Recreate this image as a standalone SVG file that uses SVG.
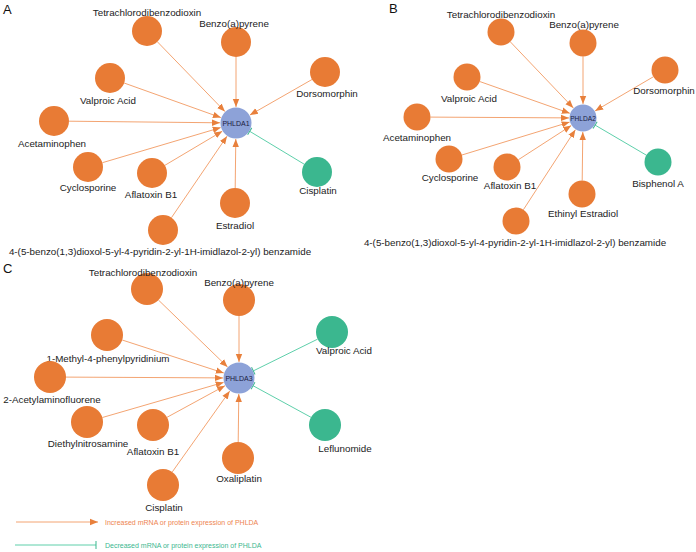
<svg xmlns="http://www.w3.org/2000/svg" width="696" height="552" viewBox="0 0 696 552">
<style>
.bg{fill:#ffffff}
.src{fill:#E87B35}
.inh{fill:#3BB78F}
.hub{fill:#8DA2D8}
.lbl{font-family:"Liberation Sans",Arial,sans-serif;font-size:9.8px;fill:#222;text-anchor:middle}
.hl{font-family:"Liberation Sans",Arial,sans-serif;font-size:7px;fill:#1a2040;text-anchor:middle}
.pl{font-family:"Liberation Sans",Arial,sans-serif;font-size:13px;fill:#111}
.up{stroke:#F29A62;stroke-width:0.9;fill:none;marker-end:url(#arr)}
.dn{stroke:#4CC9A0;stroke-width:0.9;fill:none;marker-end:url(#bar)}
.lgu{font-family:"Liberation Sans",Arial,sans-serif;font-size:7px;fill:#EE8450}
.lgd{font-family:"Liberation Sans",Arial,sans-serif;font-size:7px;fill:#3BB78F}
</style>
<defs>
<marker id="arr" markerUnits="userSpaceOnUse" markerWidth="8" markerHeight="8" viewBox="0 0 6 6" refX="6" refY="3" orient="auto">
<path d="M0,0.6 L6,3 L0,5.4 z" fill="#E8803C"/>
</marker>
<marker id="bar" markerUnits="userSpaceOnUse" markerWidth="10" markerHeight="10" viewBox="-1 -5 2 10" refX="0" refY="0" orient="auto">
<path d="M0,-4 L0,4" stroke="#3BB78F" stroke-width="1"/>
</marker>
</defs>
<rect class="bg" x="0" y="0" width="696" height="552"/>
<text class="pl" x="3" y="14">A</text>
<text class="pl" x="389" y="13">B</text>
<text class="pl" x="3" y="273">C</text>
<g id="connectors">
<!-- A -->
<line class="up" x1="157.4" y1="41.8" x2="224.9" y2="111.5"/>
<line class="up" x1="236" y1="57" x2="236" y2="107"/>
<line class="up" x1="312" y1="79.5" x2="249.9" y2="115"/>
<line class="up" x1="124.1" y1="83" x2="220.9" y2="117.6"/>
<line class="up" x1="69" y1="121.2" x2="220" y2="122.8"/>
<line class="up" x1="102.4" y1="162.7" x2="220.7" y2="127.6"/>
<line class="up" x1="164.9" y1="165.3" x2="222.3" y2="131.2"/>
<line class="up" x1="235.2" y1="188" x2="235.8" y2="139"/>
<line class="up" x1="171.5" y1="217.6" x2="227" y2="136.2"/>
<line class="dn" x1="304.2" y1="164.2" x2="249.7" y2="131.3"/>
<!-- B -->
<line class="up" x1="510.3" y1="41.8" x2="573.3" y2="107.9"/>
<line class="up" x1="583" y1="56.5" x2="583" y2="104"/>
<line class="up" x1="653.3" y1="76.8" x2="595.1" y2="110.9"/>
<line class="up" x1="479.7" y1="81.5" x2="569.8" y2="113.3"/>
<line class="up" x1="430.5" y1="117.1" x2="569" y2="117.9"/>
<line class="up" x1="461.9" y1="155" x2="569.6" y2="122.1"/>
<line class="up" x1="518.4" y1="159.7" x2="571.2" y2="125.6"/>
<line class="up" x1="582.2" y1="180.5" x2="582.8" y2="132"/>
<line class="up" x1="523.4" y1="209.7" x2="575.4" y2="129.7"/>
<line class="dn" x1="646.4" y1="155.2" x2="595.1" y2="125.1"/>
<!-- C -->
<line class="up" x1="158.5" y1="300.1" x2="227.5" y2="366.9"/>
<line class="up" x1="239" y1="316" x2="239" y2="362"/>
<line class="up" x1="122.2" y1="340" x2="223.8" y2="373"/>
<line class="up" x1="66" y1="377.1" x2="223" y2="377.9"/>
<line class="up" x1="102.4" y1="417.5" x2="223.6" y2="382.4"/>
<line class="up" x1="167" y1="417.3" x2="225" y2="385.7"/>
<line class="up" x1="238.2" y1="442" x2="238.8" y2="394"/>
<line class="up" x1="172.3" y1="471.9" x2="229.7" y2="391.1"/>
<line class="dn" x1="317.7" y1="339.1" x2="253.3" y2="370.9"/>
<line class="dn" x1="311" y1="417.3" x2="253" y2="385.7"/>
</g>
<!-- Panel A nodes -->
<g id="A-PHLDA1"><circle class="hub" cx="236" cy="123" r="15.5"/><text class="hl" x="236" y="125.5">PHLDA1</text></g>
<g id="A-tcdd"><circle class="src" cx="147" cy="31" r="15"/><text class="lbl" x="147" y="15.5">Tetrachlorodibenzodioxin</text></g>
<g id="A-bap"><circle class="src" cx="236" cy="42" r="15"/><text class="lbl" x="234" y="26.5">Benzo(a)pyrene</text></g>
<g id="A-dorso"><circle class="src" cx="325" cy="72" r="15"/><text class="lbl" x="327" y="96.5">Dorsomorphin</text></g>
<g id="A-vpa"><circle class="src" cx="110" cy="78" r="15"/><text class="lbl" x="108" y="103.5">Valproic Acid</text></g>
<g id="A-apap"><circle class="src" cx="54" cy="121" r="15"/><text class="lbl" x="52" y="146.5">Acetaminophen</text></g>
<g id="A-cyclo"><circle class="src" cx="88" cy="167" r="15"/><text class="lbl" x="88" y="190.5">Cyclosporine</text></g>
<g id="A-afb1"><circle class="src" cx="152" cy="173" r="15"/><text class="lbl" x="151" y="197.5">Aflatoxin B1</text></g>
<g id="A-e2"><circle class="src" cx="235" cy="203" r="15"/><text class="lbl" x="235" y="228.5">Estradiol</text></g>
<g id="A-benz"><circle class="src" cx="163" cy="230" r="15"/><text class="lbl" x="160" y="254.5">4-(5-benzo(1,3)dioxol-5-yl-4-pyridin-2-yl-1H-imidlazol-2-yl) benzamide</text></g>
<g id="A-cis"><circle class="inh" cx="317" cy="172" r="15"/><text class="lbl" x="318" y="193.5">Cisplatin</text></g>
<!-- Panel B nodes -->
<g id="B-PHLDA2"><circle class="hub" cx="583" cy="118" r="13.5"/><text class="hl" x="583" y="120.5" style="font-size:6.6px">PHLDA2</text></g>
<g id="B-tcdd"><circle class="src" cx="501" cy="32" r="13.5"/><text class="lbl" x="501" y="17.5">Tetrachlorodibenzodioxin</text></g>
<g id="B-bap"><circle class="src" cx="583" cy="43" r="13.5"/><text class="lbl" x="584" y="27.5">Benzo(a)pyrene</text></g>
<g id="B-dorso"><circle class="src" cx="665" cy="70" r="13.5"/><text class="lbl" x="664" y="93.5">Dorsomorphin</text></g>
<g id="B-vpa"><circle class="src" cx="467" cy="77" r="13.5"/><text class="lbl" x="469" y="101.5">Valproic Acid</text></g>
<g id="B-apap"><circle class="src" cx="417" cy="117" r="13.5"/><text class="lbl" x="417" y="140.5">Acetaminophen</text></g>
<g id="B-cyclo"><circle class="src" cx="449" cy="159" r="13.5"/><text class="lbl" x="450" y="180.5">Cyclosporine</text></g>
<g id="B-afb1"><circle class="src" cx="507" cy="167" r="13.5"/><text class="lbl" x="510" y="188.5">Aflatoxin B1</text></g>
<g id="B-ee2"><circle class="src" cx="582" cy="194" r="13.5"/><text class="lbl" x="583" y="216.5">Ethinyl Estradiol</text></g>
<g id="B-benz"><circle class="src" cx="516" cy="221" r="13.5"/><text class="lbl" x="515" y="245.5">4-(5-benzo(1,3)dioxol-5-yl-4-pyridin-2-yl-1H-imidlazol-2-yl) benzamide</text></g>
<g id="B-bpa"><circle class="inh" cx="658" cy="162" r="13.5"/><text class="lbl" x="658" y="186.5">Bisphenol A</text></g>
<!-- Panel C nodes -->
<g id="C-PHLDA3"><circle class="hub" cx="239" cy="378" r="15.5"/><text class="hl" x="239" y="380.5">PHLDA3</text></g>
<g id="C-tcdd"><circle class="src" cx="147" cy="289" r="16"/><text class="lbl" x="143" y="275.5">Tetrachlorodibenzodioxin</text></g>
<g id="C-bap"><circle class="src" cx="239" cy="300" r="16"/><text class="lbl" x="239" y="285.5">Benzo(a)pyrene</text></g>
<g id="C-mpp"><circle class="src" cx="107" cy="335" r="16"/><text class="lbl" x="108" y="361.5">1-Methyl-4-phenylpyridinium</text></g>
<g id="C-aaf"><circle class="src" cx="50" cy="377" r="16"/><text class="lbl" x="52" y="402.5">2-Acetylaminofluorene</text></g>
<g id="C-den"><circle class="src" cx="87" cy="422" r="16"/><text class="lbl" x="88" y="446.5">Diethylnitrosamine</text></g>
<g id="C-afb1"><circle class="src" cx="153" cy="425" r="16"/><text class="lbl" x="153" y="454.5">Aflatoxin B1</text></g>
<g id="C-oxa"><circle class="src" cx="238" cy="458" r="16"/><text class="lbl" x="239" y="481.5">Oxaliplatin</text></g>
<g id="C-cis"><circle class="src" cx="163" cy="485" r="16"/><text class="lbl" x="164" y="510.5">Cisplatin</text></g>
<g id="C-vpa"><circle class="inh" cx="332" cy="332" r="16"/><text class="lbl" x="344" y="353.5">Valproic Acid</text></g>
<g id="C-lef"><circle class="inh" cx="325" cy="425" r="16"/><text class="lbl" x="345" y="451.5">Leflunomide</text></g>
<!-- Legend -->
<g id="legend">
<line x1="16" y1="522" x2="98" y2="522" class="up"/>
<text class="lgu" x="105" y="524.5">Increased mRNA or protein expression of PHLDA</text>
<line x1="15" y1="545" x2="96" y2="545" class="dn"/>
<text class="lgd" x="105" y="547.5">Decreased mRNA or protein expression of PHLDA</text>
</g>
</svg>
